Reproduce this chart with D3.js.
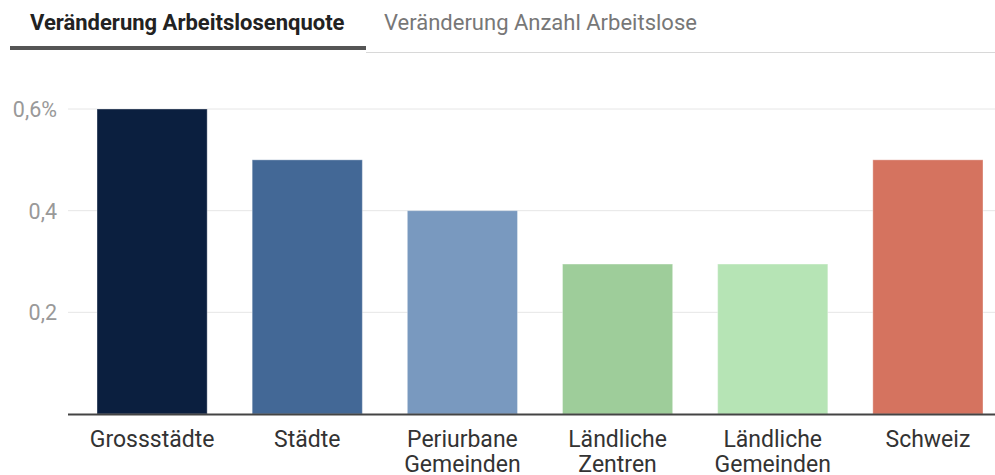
<!DOCTYPE html>
<html>
<head>
<meta charset="utf-8">
<script src="https://cdn.jsdelivr.net/npm/d3@7"></script>
<style>
  body { margin: 0; background: #fff; }
  svg { font-family: Roboto, "Open Sans", sans-serif; }
</style>
</head>
<body>
<svg width="995" height="475"></svg>
<script>
const categories = [["Grossstädte"], ["Städte"], ["Periurbane", "Gemeinden"], ["Ländliche", "Zentren"], ["Ländliche", "Gemeinden"], ["Schweiz"]]
const values = [0.6, 0.5, 0.4, 0.295, 0.295, 0.5]
const colors = ["#0b1f3f", "#436896", "#7999bf", "#9ecd9a", "#b6e4b5", "#d5735f"]
const yTicks = [0.2, 0.4, 0.6]
const tabs = ["Veränderung Arbeitslosenquote", "Veränderung Anzahl Arbeitslose"]

var svg = d3.select("svg"),
  margin = {left: 68, right: 995, top: 109, bottom: 414}

// tabs
svg.append("text").attr("x", 30).attr("y", 30)
  .attr("font-size", 22).attr("font-weight", "bold").attr("fill", "#222")
  .text(tabs[0])
svg.append("text").attr("x", 384).attr("y", 30)
  .attr("font-size", 22).attr("fill", "#777")
  .text(tabs[1])
svg.append("rect").attr("x", 366).attr("y", 52).attr("width", 629).attr("height", 1).attr("fill", "#d8d8d8")
svg.append("rect").attr("x", 10).attr("y", 46).attr("width", 356).attr("height", 4).attr("fill", "#555")

var x = d3.scaleBand()
  .domain(d3.range(categories.length))
  .range([margin.left, 1012])
  .paddingInner(0.29)
  .paddingOuter(0.187)

var y = d3.scaleLinear()
  .domain([0, 0.6])
  .range([margin.bottom, margin.top])

// grid
svg.append("g").selectAll("line").data(yTicks).join("line")
  .attr("x1", margin.left).attr("x2", margin.right)
  .attr("y1", d => y(d)).attr("y2", d => y(d))
  .attr("stroke", "#e6e6e6").attr("stroke-width", 1)

// y labels
svg.append("g").selectAll("text").data(yTicks).join("text")
  .attr("x", 57).attr("y", d => y(d) + 8)
  .attr("text-anchor", "end")
  .attr("font-size", 21.5).attr("fill", "#999")
  .text(d => d3.format(".1f")(d).replace(".", ",") + (d === 0.6 ? "%" : ""))

// bars
svg.append("g").selectAll("rect").data(values).join("rect")
  .attr("x", (d, i) => x(i))
  .attr("y", d => y(d))
  .attr("width", x.bandwidth())
  .attr("height", d => y(0) - y(d))
  .attr("fill", (d, i) => colors[i])
  .attr("stroke", "rgba(255,255,255,0.35)")
  .attr("stroke-width", 1)

// baseline
svg.append("line").attr("x1", margin.left).attr("x2", margin.right)
  .attr("y1", margin.bottom + 0.5).attr("y2", margin.bottom + 0.5)
  .attr("stroke", "#444").attr("stroke-width", 2)

// category labels
var labels = svg.append("g").selectAll("text").data(categories).join("text")
  .attr("x", (d, i) => x(i) + x.bandwidth() / 2)
  .attr("y", 447)
  .attr("text-anchor", "middle")
  .attr("font-size", 23).attr("fill", "#333")
labels.selectAll("tspan").data(d => d).join("tspan")
  .attr("x", function () { return d3.select(this.parentNode).attr("x") })
  .attr("dy", (d, i) => i === 0 ? 0 : 25)
  .text(d => d)
</script>
</body>
</html>
